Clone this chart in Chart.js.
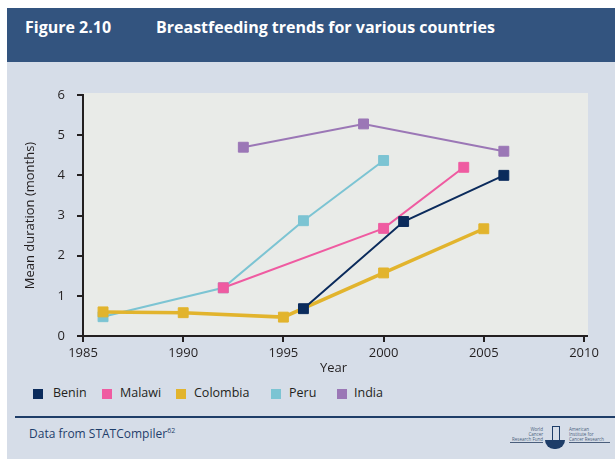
<!DOCTYPE html>
<html lang="en">
<head>
<meta charset="UTF-8">
<title>Figure 2.10</title>
<script src="https://cdn.jsdelivr.net/npm/chart.js@4.4.1/dist/chart.umd.min.js"></script>
<style>
  body { margin: 0; width: 615px; height: 460px; background: #fff; position: relative; overflow: hidden;
         font-family: "Open Sans", sans-serif; }
  .header { position: absolute; left: 7px; top: 8px; width: 608px; height: 54px; background: #33547f; color: #fff;
            font-weight: bold; font-size: 16px; }
  .header span { position: absolute; top: 8px; }
  .panel { position: absolute; left: 7px; top: 62px; width: 608px; height: 397px; background: #d6dde8; }
  #wrap { position: absolute; left: 0; top: 62px; width: 615px; height: 318px; }
  .legend { position: absolute; top: 384px; left: 0; font-size: 12.5px; color: #231f20; }
  .legend div { position: absolute; white-space: nowrap; }
  .legend i { position: absolute; top: 5px; width: 10px; height: 10px; }
  .divider { position: absolute; left: 15px; top: 416px; width: 600px; height: 2px; background: #1e3d68; }
  .source { position: absolute; left: 29px; top: 425px; font-size: 12px; color: #1f3e6b; }
  .source sup { font-size: 7px; }
  .logo { position: absolute; font-size: 4.5px; color: #4a5e7c; line-height: 5px; }
</style>
</head>
<body>
<div class="header"><span style="left:18px">Figure 2.10</span><span style="left:149px">Breastfeeding trends for various countries</span></div>
<div class="panel"></div>
<div id="wrap"><canvas id="grafico"></canvas></div>
<div class="legend" id="legenda"></div>
<div class="divider"></div>
<div class="source">Data from STATCompiler<sup>62</sup></div>
<div class="logo" style="left:510px; top:427px; width:33px; text-align:right; border-bottom:1px solid #4a5e7c;">World<br>Cancer<br>Research Fund</div>
<div class="logo" style="left:545px; top:440px; width:20px; height:9px; background:#1e3d68; border-radius:0 0 10px 10px;"></div>
<div class="logo" style="left:552px; top:426px; width:6px; height:14px; border:1px solid #1e3d68; border-bottom:none;"></div>
<div class="logo" style="left:569px; top:427px; width:41px; border-bottom:1px solid #4a5e7c;">American<br>Institute for<br>Cancer Research</div>

<script>
// dados (ano, duração média em meses)
const paises = ['Benin', 'Malawi', 'Colombia', 'Peru', 'India'];
const cores = ['#0b2b5c', '#ef5ba1', '#e2b42d', '#7cc4d3', '#9b77b6'];

const anosBenin = [1996, 2001, 2006];
const valoresBenin = [0.68, 2.85, 4.0];

const anosMalawi = [1992, 2000, 2004];
const valoresMalawi = [1.2, 2.68, 4.2];

const anosColombia = [1986, 1990, 1995, 2000, 2005];
const valoresColombia = [0.6, 0.58, 0.47, 1.57, 2.67];

const anosPeru = [1986, 1992, 1996, 2000];
const valoresPeru = [0.48, 1.2, 2.87, 4.37];

const anosIndia = [1993, 1999, 2006];
const valoresIndia = [4.7, 5.28, 4.6];

const ticksX = [1985, 1990, 1995, 2000, 2005, 2010];
const ticksY = [0, 1, 2, 3, 4, 5, 6];

const anos = [anosBenin, anosMalawi, anosColombia, anosPeru, anosIndia];
const valores = [valoresBenin, valoresMalawi, valoresColombia, valoresPeru, valoresIndia];
const espessuras = [2, 2, 3.5, 2, 2];

const datasets = paises.map((p, i) => ({
    label: p,
    data: anos[i].map((a, j) => ({ x: a, y: valores[i][j] })),
    borderColor: cores[i],
    backgroundColor: cores[i],
    borderWidth: espessuras[i],
    pointStyle: 'rect',
    pointRadius: 7,
    pointBorderWidth: 1,
    tension: 0
}));

// legenda em html
const posLegenda = [[33, 53], [102, 120], [176, 194], [271, 289], [337, 354]];
const legenda = document.getElementById('legenda');
paises.forEach((p, i) => {
    legenda.innerHTML += `<div style="left:${posLegenda[i][0]}px"><i style="background:${cores[i]}"></i>` +
        `<span style="position:absolute;left:${posLegenda[i][1] - posLegenda[i][0]}px">${p}</span></div>`;
});

const fundo = {
    id: 'fundo',
    beforeDraw(chart) {
        const a = chart.chartArea;
        const ctx = chart.ctx;
        ctx.save();
        ctx.fillStyle = '#e9ebe8';
        ctx.fillRect(a.left, a.top - 2, a.right - a.left + 4, a.bottom - a.top + 2);
        ctx.restore();
    },
    afterDraw(chart) {
        const a = chart.chartArea;
        const ctx = chart.ctx;
        ctx.save();
        ctx.strokeStyle = '#231f20';
        ctx.lineWidth = 2;
        ctx.beginPath();
        ctx.moveTo(a.right - 1, a.bottom);
        ctx.lineTo(a.right + 4, a.bottom);
        ctx.stroke();
        ctx.restore();
    }
};

const fonte = { family: '"Open Sans", sans-serif', size: 13 };

new Chart(document.getElementById('grafico'), {
    type: 'line',
    data: { datasets: datasets },
    plugins: [fundo],
    options: {
        responsive: true,
        maintainAspectRatio: false,
        animation: false,
        layout: { padding: { left: 0, top: 33, right: 31, bottom: 0 } },
        plugins: { legend: { display: false }, tooltip: { enabled: false } },
        scales: {
            x: {
                type: 'linear',
                min: ticksX[0],
                max: ticksX[ticksX.length - 1],
                afterBuildTicks: s => { s.ticks = ticksX.map(v => ({ value: v })); },
                afterFit: s => { s.height = 44; },
                ticks: { color: '#231f20', font: fonte, padding: 3, callback: v => String(v), maxRotation: 0 },
                grid: { drawOnChartArea: false, drawTicks: true, tickLength: 6, color: '#231f20', lineWidth: 2 },
                border: { display: true, color: '#231f20', width: 2 },
                title: { display: true, text: 'Year', color: '#231f20', font: fonte, padding: { top: 0, bottom: 4 } }
            },
            y: {
                min: ticksY[0],
                max: ticksY[ticksY.length - 1],
                afterBuildTicks: s => { s.ticks = ticksY.map(v => ({ value: v })); },
                afterFit: s => { s.width = 83; },
                ticks: { color: '#231f20', font: fonte, padding: 12 },
                grid: { drawOnChartArea: false, drawTicks: true, tickLength: 6, color: '#231f20', lineWidth: 2 },
                border: { display: true, color: '#231f20', width: 2 },
                title: { display: true, text: 'Mean duration (months)', color: '#231f20', font: fonte, padding: { top: 22, bottom: 0 } }
            }
        }
    }
});
</script>
</body>
</html>
